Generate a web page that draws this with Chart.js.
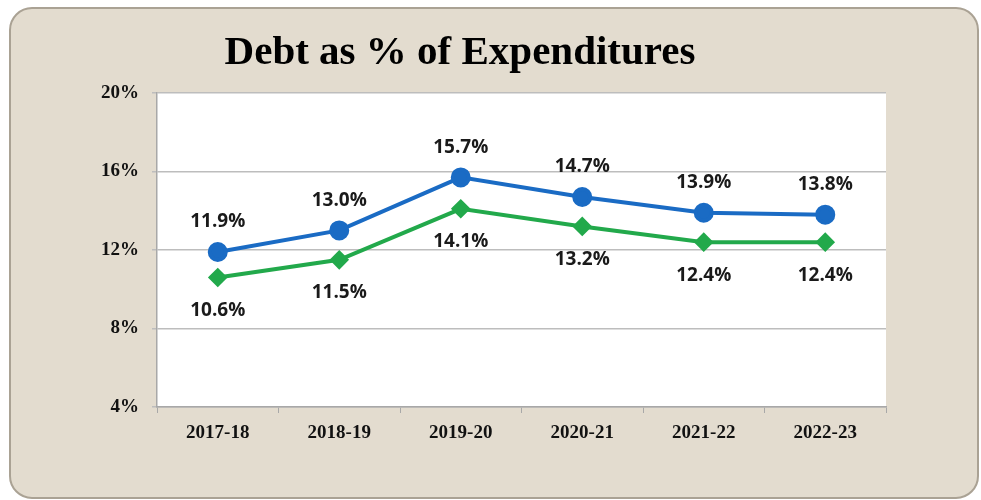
<!DOCTYPE html>
<html>
<head>
<meta charset="utf-8">
<script src="https://cdn.jsdelivr.net/npm/chart.js@4/dist/chart.umd.min.js"></script>
<style>
  html, body { margin: 0; padding: 0; background: #ffffff; }
  #wrap { width: 981px; height: 500px; position: relative; }
</style>
</head>
<body>
<div id="wrap"><canvas id="chart" width="981" height="500"></canvas></div>
<script>
// Fiscal years on the category axis
const years = ['2017-18', '2018-19', '2019-20', '2020-21', '2021-22', '2022-23'];
// Debt as a share of expenditures (%), upper and lower series
const blueSeries = [11.9, 13.0, 15.7, 14.7, 13.9, 13.8];
const greenSeries = [10.6, 11.5, 14.1, 13.2, 12.4, 12.4];
// Value axis ticks
const yTicks = [4, 8, 12, 16, 20];

const TITLE = 'Debt as % of Expenditures';

// Beige rounded panel, white plot area and the title
const panelPlugin = {
  id: 'panel',
  beforeDraw(chart) {
    const ctx = chart.ctx;
    ctx.save();
    ctx.fillStyle = '#ffffff';
    ctx.fillRect(0, 0, chart.width, chart.height);
    const x = 10, y = 8, w = 968, h = 490, r = 22;
    ctx.beginPath();
    ctx.moveTo(x + r, y);
    ctx.lineTo(x + w - r, y);
    ctx.arcTo(x + w, y, x + w, y + r, r);
    ctx.lineTo(x + w, y + h - r);
    ctx.arcTo(x + w, y + h, x + w - r, y + h, r);
    ctx.lineTo(x + r, y + h);
    ctx.arcTo(x, y + h, x, y + h - r, r);
    ctx.lineTo(x, y + r);
    ctx.arcTo(x, y, x + r, y, r);
    ctx.closePath();
    ctx.fillStyle = '#e3dccf';
    ctx.fill();
    ctx.lineWidth = 2;
    ctx.strokeStyle = '#aaa294';
    ctx.stroke();

    const a = chart.chartArea;
    ctx.fillStyle = '#ffffff';
    ctx.fillRect(a.left, a.top, a.right - a.left, a.bottom - a.top);

    ctx.fillStyle = '#000000';
    ctx.font = 'bold 41px "Liberation Serif", "Times New Roman", serif';
    ctx.textAlign = 'center';
    ctx.textBaseline = 'alphabetic';
    ctx.fillText(TITLE, 460, 64);
    ctx.restore();
  }
};

// Value labels: blue above its points, green below
const labelPlugin = {
  id: 'valueLabels',
  afterDatasetsDraw(chart) {
    const ctx = chart.ctx;
    ctx.save();
    ctx.font = 'bold 19px "Open Sans", "DejaVu Sans", sans-serif';
    ctx.fillStyle = '#1a1a1a';
    ctx.textAlign = 'center';
    ctx.textBaseline = 'middle';
    chart.data.datasets.forEach((ds, i) => {
      const meta = chart.getDatasetMeta(i);
      meta.data.forEach((pt, j) => {
        const dy = ds.labelPos === 'above' ? -30 : 33;
        ctx.fillText(ds.data[j].toFixed(1) + '%', pt.x, pt.y + dy);
      });
    });
    ctx.restore();
  }
};

new Chart(document.getElementById('chart'), {
  type: 'line',
  data: {
    labels: years,
    datasets: [
      {
        data: blueSeries,
        labelPos: 'above',
        borderColor: '#1a6bc4',
        backgroundColor: '#1a6bc4',
        borderWidth: 4,
        pointStyle: 'circle',
        pointRadius: 8,
        pointHoverRadius: 8,
        tension: 0
      },
      {
        data: greenSeries,
        labelPos: 'below',
        borderColor: '#22a94b',
        backgroundColor: '#22a94b',
        borderWidth: 4,
        pointStyle: 'rectRot',
        pointRadius: 7,
        pointHoverRadius: 7,
        tension: 0
      }
    ]
  },
  options: {
    responsive: false,
    animation: false,
    events: [],
    layout: { padding: { left: 10, top: 93, right: 95, bottom: 0 } },
    plugins: {
      legend: { display: false },
      title: { display: false },
      tooltip: { enabled: false }
    },
    scales: {
      x: {
        offset: true,
        afterFit(scale) { scale.height = 93; },
        grid: {
          offset: true,
          drawOnChartArea: false,
          drawTicks: true,
          tickLength: 6,
          color: '#a8a8a8'
        },
        border: { color: '#a8a8a8', width: 1.5 },
        ticks: {
          padding: 9,
          color: '#111111',
          font: { family: '"Liberation Serif", "Times New Roman", serif', size: 19, weight: 'bold' }
        }
      },
      y: {
        min: 4,
        max: 20,
        afterFit(scale) { scale.width = 147; },
        afterBuildTicks(scale) { scale.ticks = yTicks.map(v => ({ value: v })); },
        grid: {
          color: '#bdbdbd',
          lineWidth: 1.5,
          tickLength: 5
        },
        border: { color: '#a8a8a8', width: 1.5 },
        ticks: {
          padding: 13,
          color: '#111111',
          font: { family: '"Liberation Serif", "Times New Roman", serif', size: 19, weight: 'bold' },
          callback: v => v + '%'
        }
      }
    }
  },
  plugins: [panelPlugin, labelPlugin]
});
</script>
</body>
</html>
